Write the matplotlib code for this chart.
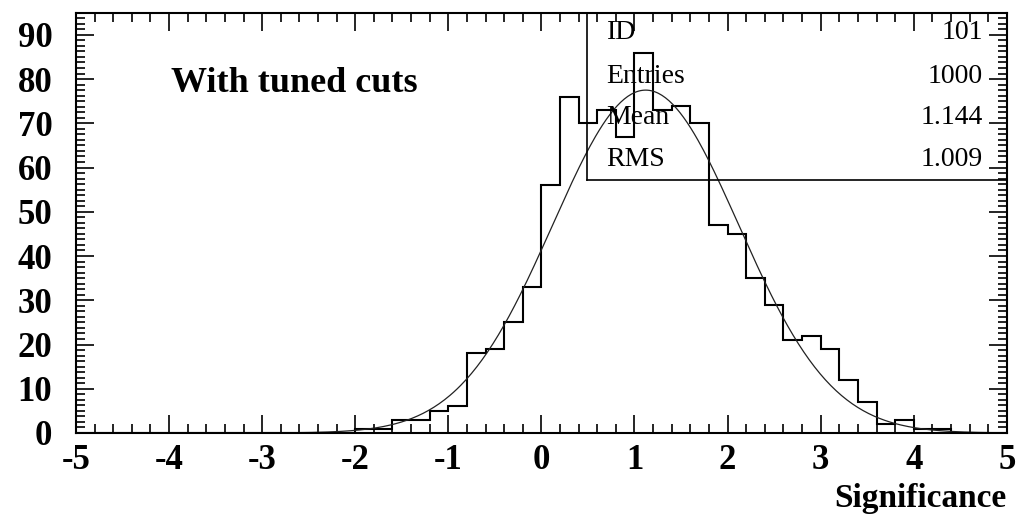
import numpy as np
import matplotlib
matplotlib.use("Agg")
import matplotlib.pyplot as plt
from matplotlib.ticker import MultipleLocator

plt.rcParams["axes.unicode_minus"] = False

# histogram: 50 bins of width 0.2 between -5 and 5
x_lo, x_hi, n_bins = -5.0, 5.0, 50
counts = [
    0, 0, 0, 0, 0, 0, 0, 0, 0, 0,          # -5.0 .. -3.0
    0, 0, 0, 0, 0, 1, 1, 3, 3, 5,          # -3.0 .. -1.0
    6, 18, 19, 25, 33, 56, 76, 70, 73, 67,  # -1.0 ..  1.0
    86, 73, 74, 70, 47, 45, 35, 29, 21, 22,  #  1.0 ..  3.0
    19, 12, 7, 2, 3, 1, 1, 0, 0, 0,          #  3.0 ..  5.0
]

# gaussian fit drawn over the histogram
fit_amp, fit_mean, fit_sigma = 77.5, 1.12, 1.0
fit_range = (-2.7, 5.0)

# statistics box
stat_names = ["ID", "Entries", "Mean", "RMS"]
stat_values = ["101", "1000", "1.144", "1.009"]

serif = ["Liberation Serif", "DejaVu Serif"]

fig = plt.figure(figsize=(10.17, 5.14), dpi=100)
ax = fig.add_axes([0.0747, 0.1576, 0.9153, 0.8177])

edges = np.linspace(x_lo, x_hi, n_bins + 1)
ax.stairs(counts, edges, color="black", linewidth=1.5)

xf = np.linspace(fit_range[0], fit_range[1], 400)
yf = fit_amp * np.exp(-0.5 * ((xf - fit_mean) / fit_sigma) ** 2)
ax.plot(xf, yf, color="#222222", linewidth=0.9)

ax.set_xlim(x_lo, x_hi)
ax.set_ylim(0, 95)

# stat box outline (left and bottom edges only, the frame closes it)
box_x, box_y = 0.49, 57.2
ax.plot([box_x, box_x], [box_y, 95], color="black", linewidth=1.2)
ax.plot([box_x, x_hi], [box_y, box_y], color="black", linewidth=1.2)
row_y = [90.5, 80.5, 71.3, 61.8]
for name, val, yy in zip(stat_names, stat_values, row_y):
    ax.text(0.70, yy, name, family=serif, fontsize=20, va="center", ha="left")
    ax.text(4.74, yy, val, family=serif, fontsize=20, va="center", ha="right")

ax.text(-3.98, 79, "With tuned cuts", family=serif, fontsize=26,
        fontweight="bold", va="center", ha="left")

ax.xaxis.set_major_locator(MultipleLocator(1))
ax.xaxis.set_minor_locator(MultipleLocator(0.2))
ax.yaxis.set_major_locator(MultipleLocator(10))
ax.yaxis.set_minor_locator(MultipleLocator(1.25))
ax.tick_params(which="both", direction="in", top=True, right=True,
               width=1.2, colors="black")
ax.tick_params(which="major", length=13)
ax.tick_params(which="minor", length=6.5)
ax.tick_params(axis="x", which="major", pad=8)
ax.tick_params(axis="y", which="major", pad=17)
for lab in ax.get_xticklabels() + ax.get_yticklabels():
    lab.set_family(serif)
    lab.set_fontsize(25)
    lab.set_fontweight("bold")
for sp in ax.spines.values():
    sp.set_linewidth(1.5)

ax.set_xlabel("Significance", loc="right", family=serif, fontsize=24,
              fontweight="bold", labelpad=4)

fig.savefig("out.png", dpi=100)
